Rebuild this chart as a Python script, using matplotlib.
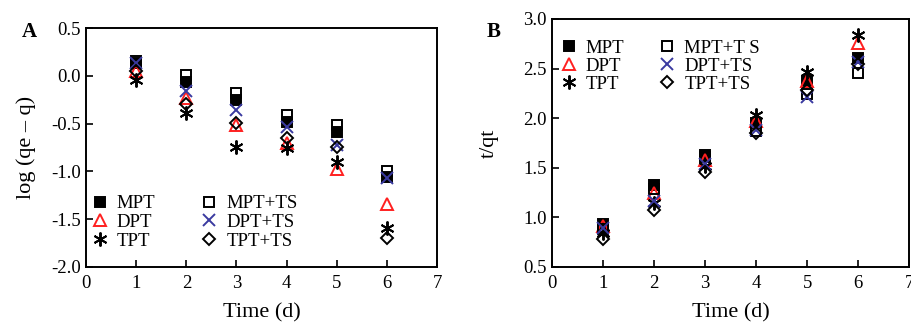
import matplotlib

matplotlib.use("Agg")
import matplotlib.pyplot as plt

plt.rcParams["font.family"] = ["Liberation Serif", "DejaVu Serif"]
plt.rcParams["mathtext.fontset"] = "stix"

days = [1, 2, 3, 4, 5, 6]
series = ["MPT", "DPT", "TPT", "MPT+TS", "DPT+TS", "TPT+TS"]
labels_b = ["MPT", "DPT", "TPT", "MPT+T S", "DPT+TS", "TPT+TS"]

# panel A: log(qe - q)
log_a = {
    "MPT": [0.13, -0.06, -0.25, -0.48, -0.59, -1.06],
    "DPT": [0.05, -0.23, -0.51, -0.70, -0.97, -1.34],
    "TPT": [-0.04, -0.39, -0.75, -0.76, -0.90, -1.59],
    "MPT+TS": [0.15, 0.01, -0.18, -0.41, -0.52, -1.00],
    "DPT+TS": [0.13, -0.16, -0.36, -0.54, -0.72, -1.07],
    "TPT+TS": [0.05, -0.29, -0.49, -0.65, -0.74, -1.70],
}

# panel B: t/qt
tq_b = {
    "MPT": [0.93, 1.33, 1.63, 1.95, 2.37, 2.61],
    "DPT": [0.91, 1.25, 1.58, 1.97, 2.37, 2.76],
    "TPT": [0.84, 1.14, 1.52, 2.03, 2.47, 2.84],
    "MPT+TS": [0.88, 1.29, 1.61, 1.87, 2.24, 2.46],
    "DPT+TS": [0.89, 1.16, 1.54, 1.88, 2.21, 2.57],
    "TPT+TS": [0.78, 1.07, 1.46, 1.85, 2.28, 2.55],
}

styles = {
    "MPT": dict(marker="s", mfc="black", mec="black", ms=7),
    "DPT": dict(marker="^", mfc="none", mec="#ff2020", ms=8),
    "TPT": dict(marker=(6, 2, 0), mfc="none", mec="black", ms=10),
    "MPT+TS": dict(marker="s", mfc="none", mec="black", ms=7),
    "DPT+TS": dict(marker="x", mfc="none", mec="#3a3aa0", ms=8),
    "TPT+TS": dict(marker="D", mfc="none", mec="black", ms=6),
}


def style_axes(ax):
    ax.set_xlim(0, 7)
    ax.set_xticks(range(8))
    ax.tick_params(direction="in", length=5, width=1.2, labelsize=13.5,
                   top=False, right=False)
    ax.tick_params(axis="x", pad=6)
    for sp in ax.spines.values():
        sp.set_linewidth(1.4)
    ax.set_xlabel("Time (d)", fontsize=16, labelpad=8)


fig = plt.figure(figsize=(9.12, 3.22), dpi=100)
ax_a = fig.add_axes([0.0943, 0.171, 0.385, 0.742])
ax_b = fig.add_axes([0.605, 0.171, 0.392, 0.770])

for name in series:
    ax_a.plot(days, log_a[name], ls="none", mew=1.4, label=name, **styles[name])
ax_a.set_ylim(-2.0, 0.5)
ax_a.set_yticks([-2.0, -1.5, -1.0, -0.5, 0.0, 0.5])
ax_a.set_yticklabels(["-2.0", "-1.5", "-1.0", "-0.5", "0.0", "0.5"])
ax_a.set_ylabel("log (qe \u2013 q)", fontsize=16, labelpad=11)
style_axes(ax_a)
ax_a.legend(loc="upper left", bbox_to_anchor=(-0.02, 0.355), ncol=2, frameon=False,
            fontsize=13.5, handlelength=0.8, handletextpad=0.5, columnspacing=2.5,
            labelspacing=0.08, borderpad=0.2)

for name, lab in zip(series, labels_b):
    ax_b.plot(days, tq_b[name], ls="none", mew=1.4, label=lab, **styles[name])
ax_b.set_ylim(0.5, 3.0)
ax_b.set_yticks([0.5, 1.0, 1.5, 2.0, 2.5, 3.0])
ax_b.set_yticklabels(["0.5", "1.0", "1.5", "2.0", "2.5", "3.0"])
ax_b.set_ylabel("t/qt", fontsize=16, labelpad=18)
style_axes(ax_b)
ax_b.legend(loc="upper left", bbox_to_anchor=(-0.01, 0.97), ncol=2, frameon=False,
            fontsize=13.5, handlelength=0.8, handletextpad=0.5, columnspacing=1.9,
            labelspacing=0.05, borderpad=0.2)

fig.text(0.024, 0.885, "A", fontsize=15, fontweight="bold")
fig.text(0.534, 0.885, "B", fontsize=15, fontweight="bold")

fig.savefig("out.png", dpi=100)
